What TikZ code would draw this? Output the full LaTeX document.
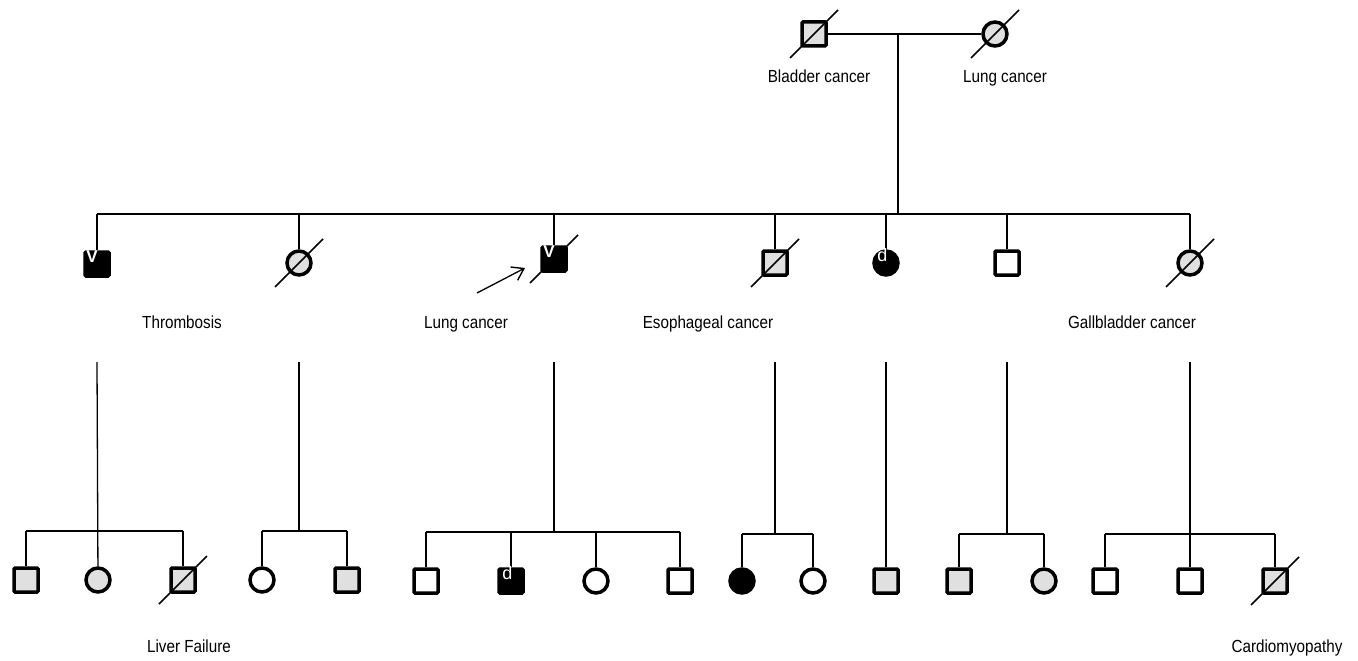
\documentclass[tikz,border=0pt]{standalone}
\usepackage{fontspec}
\usepackage{graphicx}
\setmainfont{Liberation Sans}
\usetikzlibrary{arrows.meta}
\definecolor{carrier}{HTML}{E0E0E0}
\newcommand{\lbtext}[1]{\scalebox{0.87}[1]{#1}}
\begin{document}
\begin{tikzpicture}[x=1pt,y=-1pt,
  male/.style={rectangle, draw=black, line width=3.5pt, minimum size=24pt, inner sep=0pt, rounded corners=1pt},
  female/.style={circle, draw=black, line width=3.5pt, minimum size=24pt, inner sep=0pt},
  aff/.style={fill=black},
  car/.style={fill=carrier},
  unaff/.style={fill=white},
  lbl/.style={inner sep=0pt, anchor=base, font=\fontsize{17.5}{20}\selectfont},
  conn/.style={line width=1.3pt},
  slash/.style={line width=1.5pt},
  vmark/.style={text=white, inner sep=0pt, anchor=north east, font=\fontsize{17}{17}\selectfont\bfseries},
  dmark/.style={text=white, inner sep=0pt, anchor=north east, font=\fontsize{18}{18}\selectfont}
]
\useasboundingbox (0,0) rectangle (1358,661);
\fill[white] (0,0) rectangle (1358,661);

% generation I
\node[male, car] (gf) at (814,34) {};
\node[female, car] (gm) at (995,34) {};
\draw[conn] (gf) -- (gm);
\coordinate (m0) at (898,34);
\coordinate (s0) at (898,214);
\draw[conn] (m0) -- (s0);
\draw[slash] ([shift={(-24,24)}]gf.center) -- ([shift={(24,-24)}]gf.center);
\draw[slash] ([shift={(-24,24)}]gm.center) -- ([shift={(24,-24)}]gm.center);
\node[lbl] (lgf) at (819,82) {\lbtext{Bladder cancer}};
\node[lbl] (lgm) at (1005,82) {\lbtext{Lung cancer}};

% generation II
\coordinate (sL) at (97,214);
\coordinate (sR) at (1190,214);
\draw[conn] (sL) -- (sR);
\node[male, aff] (a) at (97,264) {};
\node[female, car] (b) at (299,263) {};
\node[male, aff] (c) at (554,259) {};
\node[male, car] (d) at (775,263) {};
\node[female, aff] (e) at (886,263) {};
\node[male, unaff] (f) at (1007,263) {};
\node[female, car] (g) at (1190,263) {};
\foreach \n in {a,b,c,d,e,f,g} {\draw[conn] (\n |- sL) -- (\n);}
\foreach \n in {b,c,d,g} {\draw[slash] ([shift={(-24,24)}]\n.center) -- ([shift={(24,-24)}]\n.center);}
\node[vmark] (va) at ([shift={(1,0)}]a.north) {V};
\node[vmark] (vc) at ([shift={(1,0)}]c.north) {V};
\node[dmark] (de) at ([shift={(1.5,-1)}]e.north) {d};

\node[lbl] (la) at (182,328) {\lbtext{Thrombosis}};
\node[lbl] (lc) at (466,328) {\lbtext{Lung cancer}};
\node[lbl] (ld) at (708,328) {\lbtext{Esophageal cancer}};
\node[lbl] (lg) at (1132,328) {\lbtext{Gallbladder cancer}};

\coordinate (arS) at (477,293);
\coordinate (arE) at (525,268);
\draw[conn, -{Straight Barb[length=11pt,width=15pt,line width=1.4pt]}] (arS) -- (arE);

% generation III
\coordinate (t1) at (97,362);
\coordinate (t2) at (299,362);
\coordinate (t3) at (554,362);
\coordinate (t4) at (775,362);
\coordinate (t5) at (886,362);
\coordinate (t6) at (1007,362);
\coordinate (t7) at (1190,362);

% family 1
\node[male, car] (c11) at (26,580) {};
\node[female, car] (c12) at (98,580) {};
\node[male, car] (c13) at (183,580) {};
\coordinate (f1L) at (26,531);
\coordinate (f1R) at (183,531);
\draw[conn] (f1L) -- (f1R);
\draw[conn] (t1) -- (c12);
\draw[conn] (f1L) -- (c11);
\draw[conn] (f1R) -- (c13);
\draw[slash] ([shift={(-24,24)}]c13.center) -- ([shift={(24,-24)}]c13.center);

% family 2
\node[female, unaff] (c21) at (262,580) {};
\node[male, car] (c22) at (347,580) {};
\coordinate (f2L) at (262,531);
\coordinate (f2R) at (347,531);
\draw[conn] (f2L) -- (f2R);
\draw[conn] (t2) -- (t2 |- f2L);
\draw[conn] (f2L) -- (c21);
\draw[conn] (f2R) -- (c22);

% family 3
\node[male, unaff] (c31) at (426,581) {};
\node[male, aff] (c32) at (511,581) {};
\node[female, unaff] (c33) at (596,581) {};
\node[male, unaff] (c34) at (680,581) {};
\coordinate (f3L) at (426,532);
\coordinate (f3R) at (680,532);
\draw[conn] (f3L) -- (f3R);
\draw[conn] (t3) -- (t3 |- f3L);
\foreach \n in {c31,c32,c33,c34} {\draw[conn] (\n |- f3L) -- (\n);}
\node[dmark] (dc32) at ([shift={(1.5,-1)}]c32.north) {d};

% family 4
\node[female, aff] (c41) at (742,581) {};
\node[female, unaff] (c42) at (813,581) {};
\coordinate (f4L) at (742,534);
\coordinate (f4R) at (813,534);
\draw[conn] (f4L) -- (f4R);
\draw[conn] (t4) -- (t4 |- f4L);
\draw[conn] (f4L) -- (c41);
\draw[conn] (f4R) -- (c42);

% family 5
\node[male, car] (c51) at (886,581) {};
\draw[conn] (t5) -- (c51);

% family 6
\node[male, car] (c61) at (959,581) {};
\node[female, car] (c62) at (1044,581) {};
\coordinate (f6L) at (959,534);
\coordinate (f6R) at (1044,534);
\draw[conn] (f6L) -- (f6R);
\draw[conn] (t6) -- (t6 |- f6L);
\draw[conn] (f6L) -- (c61);
\draw[conn] (f6R) -- (c62);

% family 7
\node[male, unaff] (c71) at (1105,581) {};
\node[male, unaff] (c72) at (1190,581) {};
\node[male, car] (c73) at (1275,581) {};
\coordinate (f7L) at (1105,534);
\coordinate (f7R) at (1275,534);
\draw[conn] (f7L) -- (f7R);
\draw[conn] (t7) -- (c72);
\draw[conn] (f7L) -- (c71);
\draw[conn] (f7R) -- (c73);
\draw[slash] ([shift={(-24,24)}]c73.center) -- ([shift={(24,-24)}]c73.center);

\node[lbl] (lc13) at (189,652) {\lbtext{Liver Failure}};
\node[lbl] (lc73) at (1287,652) {\lbtext{Cardiomyopathy}};
\end{tikzpicture}
\end{document}
